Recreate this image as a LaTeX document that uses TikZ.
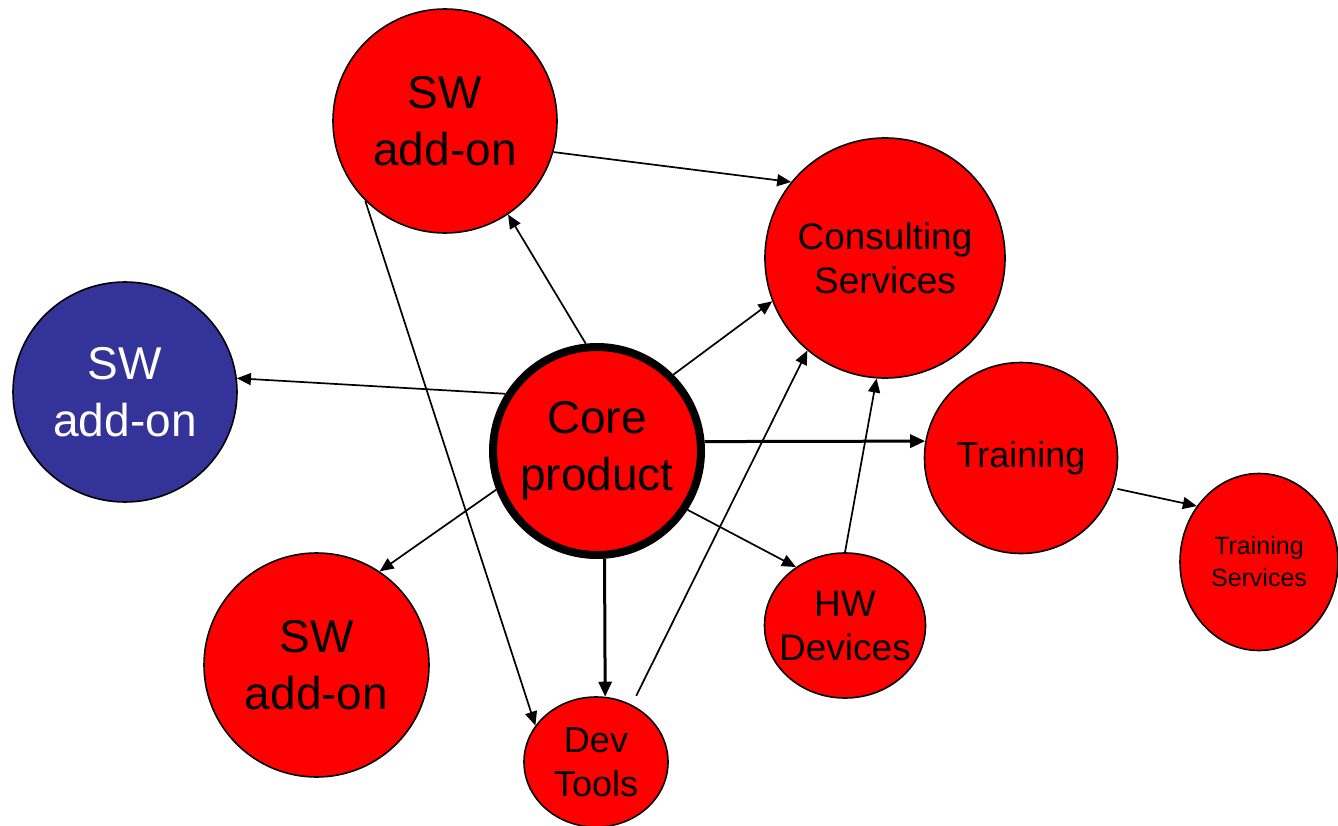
\documentclass[tikz,border=0pt]{standalone}
\usepackage{fontspec}
\setmainfont{Liberation Sans}
\usetikzlibrary{shapes.geometric,arrows.meta}

\definecolor{bubblered}{RGB}{255,0,0}
\definecolor{bubbleblue}{RGB}{51,51,153}

\tikzset{
  bubble/.style={ellipse, draw=black, line width=1.6pt, fill=bubblered,
                 inner sep=-15pt, align=center, text=black},
  hugetext/.style={font=\fontsize{46}{57}\selectfont},
  midtext/.style={font=\fontsize{37}{44}\selectfont},
  smalltext/.style={font=\fontsize{25}{32}\selectfont},
  link/.style={line width=1.7pt, -{Triangle[length=14pt,width=12pt]}},
  heavylink/.style={line width=3pt, -{Triangle[length=15pt,width=13pt]}},
}

\begin{document}
\begin{tikzpicture}[x=1pt,y=-1pt]
\useasboundingbox (0,0) rectangle (1338,826);

% product bubbles
\node[bubble, hugetext, minimum width=224pt, minimum height=224pt]
  (swtop) at (445,121) {SW\\add-on};
\node[bubble, midtext, minimum width=240pt, minimum height=240pt]
  (consult) at (885,258) {Consulting\\Services};
\node[bubble, hugetext, fill=bubbleblue, text=white,
      minimum width=224pt, minimum height=220pt]
  (swleft) at (125,392) {SW\\add-on};
\node[bubble, hugetext, line width=8pt,
      minimum width=208pt, minimum height=208pt]
  (core) at (597,451) {Core\\product};
\node[bubble, midtext, font=\fontsize{36}{44}\selectfont,
      minimum width=193pt, minimum height=191pt]
  (training) at (1021,458) {Training};
\node[bubble, smalltext, minimum width=158pt, minimum height=177pt]
  (trainsvc) at (1259,562) {Training\\Services};
\node[bubble, hugetext, minimum width=225pt, minimum height=224pt]
  (swbottom) at (316.5,665) {SW\\add-on};
\node[bubble, midtext, minimum width=161pt, minimum height=145pt]
  (hw) at (845,625.5) {HW\\Devices};
\node[bubble, midtext, font=\fontsize{36}{44}\selectfont,
      minimum width=144pt, minimum height=130pt]
  (dev) at (596,762) {Dev\\Tools};

% dependencies
\draw[link] (swtop.-16) -- (consult.141);
\draw[link] (swtop.225) -- (dev.149);
\draw[link] (core.96) -- (swtop.-56);
\draw[link] (core.148) -- (swleft.7);
\draw[link] (core.45) -- (consult.201);
\draw[heavylink] (core.5) -- (training.170);
\draw[link] (core.201) -- (swbottom.56);
\draw[link] (core.-33) -- (hw.130);
\draw[heavylink] (core.-86) -- (dev.82);
\draw[link, shorten <=10pt] (dev.58) -- (consult.230);
\draw[link] (hw.90) -- (consult.266);
\draw[link, shorten <=4pt] (training.-18) -- (trainsvc.138);
\end{tikzpicture}
\end{document}
